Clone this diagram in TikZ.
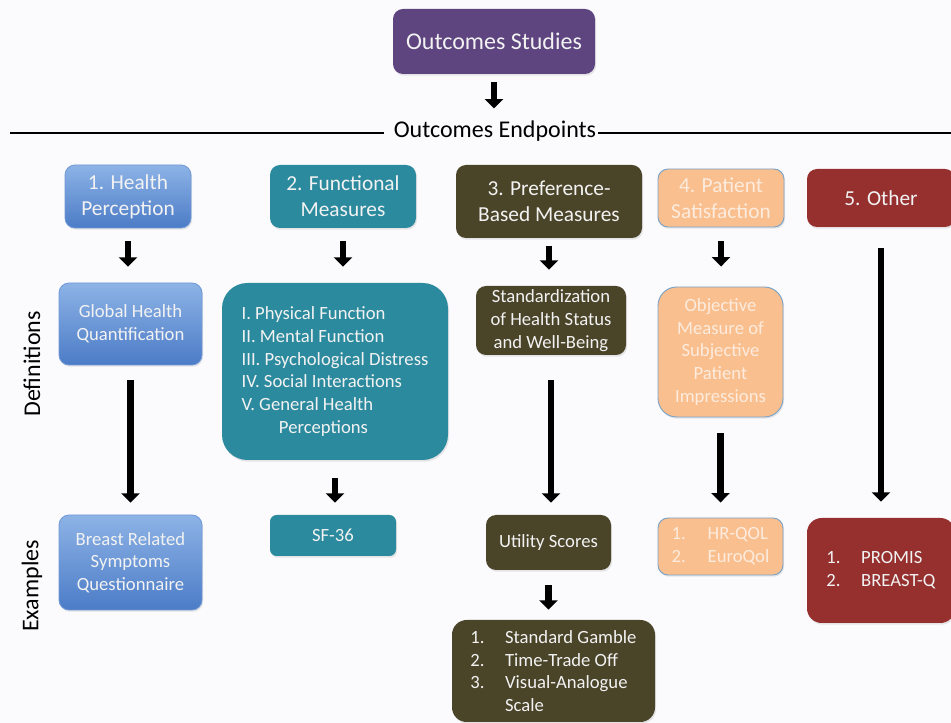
\documentclass[tikz,border=0pt]{standalone}
\usepackage{fontspec}
\setmainfont{Carlito}
\usetikzlibrary{arrows.meta,shadows}
\definecolor{bg}{RGB}{251,251,253}
\definecolor{cpurple}{RGB}{94,69,128}
\definecolor{cblueT}{RGB}{141,179,230}
\definecolor{cblueB}{RGB}{76,124,199}
\definecolor{cblueD}{RGB}{110,152,214}
\definecolor{cteal}{RGB}{44,138,158}
\definecolor{colive}{RGB}{74,68,41}
\definecolor{cpeach}{RGB}{249,191,143}
\definecolor{cpeachD}{RGB}{123,163,200}
\definecolor{cpeachT}{RGB}{253,236,222}
\definecolor{cred}{RGB}{149,48,47}
\definecolor{ctext}{RGB}{242,242,242}
\tikzset{
  box/.style={rounded corners=7.5pt, text=ctext, align=center, inner sep=2pt,
    font=\fontsize{14}{17}\selectfont,
    drop shadow={opacity=0.18,shadow xshift=0.8pt,shadow yshift=-1.3pt}},
  wh/.style 2 args={minimum width=#1*0.75pt, minimum height=#2*0.75pt},
  rowone/.style={font=\fontsize{16}{19.5}\selectfont},
  bluebox/.style={box, top color=cblueT, bottom color=cblueB, draw=cblueD, line width=0.6pt, text=ctext},
  tealbox/.style={box, fill=cteal},
  olivebox/.style={box, fill=colive},
  peachbox/.style={box, fill=cpeach, draw=cpeachD, line width=0.7pt, text=cpeachT},
  redbox/.style={box, fill=cred},
  arr/.style={line width=4.8pt, -{Triangle[width=13.5pt,length=7pt]}},
  hline/.style={line width=2.2pt},
  side/.style={font=\fontsize{18}{22}\selectfont, rotate=90}
}
\begin{document}
\begin{tikzpicture}[x=0.75pt,y=-0.75pt]
\fill[bg] (0,0) rectangle (951,723);
\useasboundingbox (0,0) rectangle (951,723);

% top
\node[box, fill=cpurple, wh={202}{65}, font=\fontsize{18}{22}\selectfont] (os) at (494,41.5) {Outcomes Studies};
\node[font=\fontsize{18}{22}\selectfont, inner sep=0pt] (oe) at (495,131) {Outcomes Endpoints};
\coordinate (ll) at (10,133);
\coordinate (lr) at (951,133);
\draw[hline] (ll) -- ([xshift=-7.5pt]oe.west |- ll);
\draw[hline] ([xshift=1.5pt]oe.east |- ll) -- (lr);

% side labels
\node[side] (def) at (32,364) {Definitions};
\node[side] (exa) at (32,586) {Examples};

% row 1
\node[bluebox, rowone, wh={126}{63}] (b1) at (128,196.5) {1. Health\\Perception};
\node[tealbox, rowone, wh={146}{63}] (b2) at (343,196.5) {2. Functional\\Measures};
\node[olivebox, rowone, wh={186}{73}] (b3) at (549,201.5) {3. Preference-\\Based Measures};
\node[peachbox, rowone, wh={126}{58}] (b4) at (721,198) {4. Patient\\Satisfaction};
\node[redbox, rowone, wh={148}{58}] (b5) at (881,198) {5. Other};

% row 2
\node[bluebox, wh={143}{82}] (g1) at (130.5,324) {Global Health\\Quantification};
\node[tealbox, wh={226}{177}, rounded corners=19pt, align=left] (g2) at (335,371.5)
  {I. Physical Function\\II. Mental Function\\III. Psychological Distress\\IV. Social Interactions\\V. General Health\\\hspace*{28pt}Perceptions};
\node[olivebox, wh={150}{69}] (g3) at (551,320.5) {Standardization\\of Health Status\\and Well-Being};
\node[peachbox, wh={125}{130}, rounded corners=14pt] (g4) at (720.5,352) {Objective\\Measure of\\Subjective\\Patient\\Impressions};

% row 3
\node[bluebox, wh={143}{95}] (e1) at (130.5,562.5) {Breast Related\\Symptoms\\Questionnaire};
\node[tealbox, wh={126}{41}, rounded corners=5pt] (e2) at (333,535.5) {SF-36};
\node[olivebox, wh={125}{55}] (e3) at (548.5,542.5) {Utility Scores};
\node[peachbox, wh={125}{57}, align=left] (e4) at (720.5,546.5) {\makebox[27pt][l]{1.}HR-QOL\\\makebox[27pt][l]{2.}EuroQol};
\node[redbox, wh={148}{105}, rounded corners=11pt, align=left] (e5) at (881,570.5) {\makebox[26pt][l]{1.}PROMIS\\\makebox[26pt][l]{2.}BREAST-Q};

% row 4
\node[olivebox, wh={203}{102}, rounded corners=11pt, align=left] (f3) at (553.5,671)
  {\makebox[26pt][l]{1.}Standard Gamble\\\makebox[26pt][l]{2.}Time-Trade Off\\\makebox[26pt][l]{3.}Visual-Analogue\\\makebox[26pt][l]{}Scale};

% arrows
\draw[arr, shorten <=6pt, shorten >=9pt] (os.south) -- (os.south |- oe.north);
\draw[arr, shorten <=9.75pt, shorten >=12pt] (b1.south) -- (b1.south |- g1.north);
\draw[arr, shorten <=9.75pt, shorten >=12pt] (b2.south) -- (b2.south |- g2.north);
\draw[arr, shorten <=5.5pt, shorten >=12pt] (b3.south) -- (b3.south |- g3.north);
\draw[arr, shorten <=10.5pt, shorten >=15pt] (b4.south) -- (b4.south |- g4.north);
\draw[arr, shorten <=15.75pt, shorten >=12pt] (b5.south) -- (b5.south |- e5.north);
\draw[arr, shorten <=11.25pt, shorten >=9pt] (g1.south) -- (g1.south |- e1.north);
\draw[arr, shorten <=13.5pt, shorten >=9pt] (g2.south) -- (g2.south |- e2.north);
\draw[arr, shorten <=18.75pt, shorten >=9pt] (g3.south) -- (g3.south |- e3.north);
\draw[arr, shorten <=12pt, shorten >=11.25pt] (g4.south) -- (g4.south |- e4.north);
\draw[arr, shorten <=11.25pt, shorten >=7.5pt] (e3.south) -- (e3.south |- f3.north);
\end{tikzpicture}
\end{document}
